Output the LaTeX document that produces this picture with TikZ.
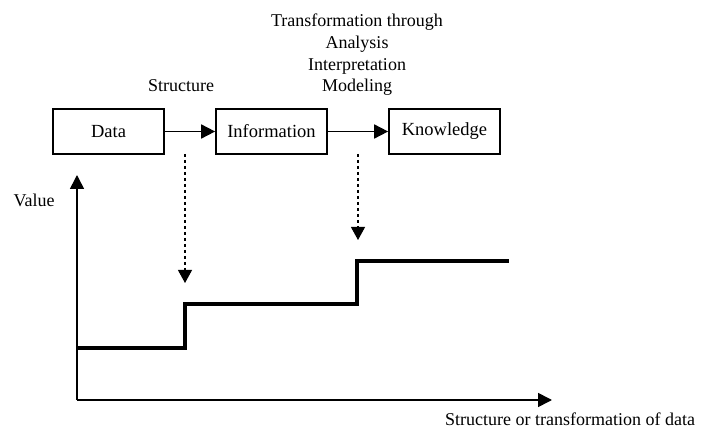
\documentclass[tikz,border=0pt]{standalone}
\usepackage{fontspec}
\setmainfont{Liberation Serif}
\usetikzlibrary{arrows.meta}
\begin{document}
\begin{tikzpicture}[x=1pt,y=-1pt,
  box/.style={draw,line width=1.7pt,minimum width=111pt,minimum height=45pt,inner sep=0pt,font=\fontsize{18.5}{21.7}\selectfont},
  lbl/.style={font=\fontsize{18}{21.7}\selectfont,inner sep=0pt},
  arr/.style={line width=1.7pt,-{Triangle[length=14pt,width=14pt]}},
  darr/.style={line width=1.1pt,dash pattern=on 3.5pt off 2.5pt,-{Triangle[length=13pt,width=14pt]}},
  axis/.style={line width=1.6pt,-{Triangle[length=14pt,width=14pt]}}]
\useasboundingbox (0,0) rectangle (709,430);
\node[box] (data) at (108.5,131.5) {Data};
\node[box] (info) at (271.5,131.5) {Information};
\node[box] (know) at (444.5,131.5) {Knowledge};
\draw[arr] (data) -- (info);
\draw[arr] (info) -- (know);
\node[lbl] (struct) at (181,86) {Structure};
\node[lbl,align=center] (trans) at (357,55) {Transformation through\\Analysis\\Interpretation\\Modeling};
\coordinate (o) at (77,400);
\coordinate (ytop) at (77,175);
\coordinate (xend) at (552,400);
\draw[axis] (o) -- (ytop);
\draw[axis] (o) -- (xend);
\node[lbl] (value) at (34,200) {Value};
\node[lbl] (xlabel) at (570,419) {Structure or transformation of data};
\coordinate (d1s) at (185,154);
\coordinate (d1e) at (185,283);
\coordinate (d2s) at (358,154);
\coordinate (d2e) at (358,240);
\draw[darr] (d1s) -- (d1e);
\draw[darr] (d2s) -- (d2e);
\coordinate (s0) at (77,348);
\coordinate (s1) at (185,348);
\coordinate (s2) at (185,304);
\coordinate (s3) at (357,304);
\coordinate (s4) at (357,261);
\coordinate (s5) at (509,261);
\draw[line width=3.6pt,line join=miter] (s0) -- (s1) -- (s2) -- (s3) -- (s4) -- (s5);
\end{tikzpicture}
\end{document}
